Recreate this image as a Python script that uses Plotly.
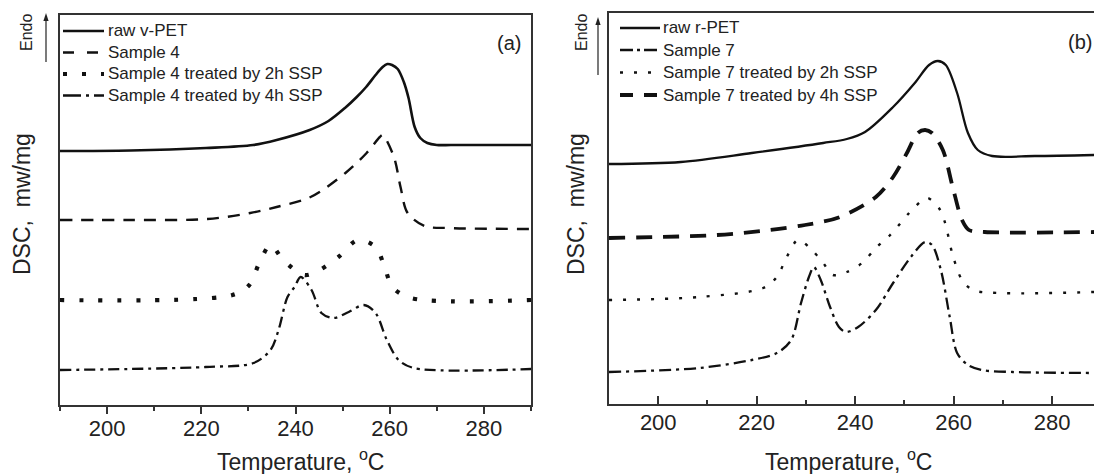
import plotly.graph_objects as go

# ---------------- data (temperature in degC, DSC signal in arbitrary offset units) ----------------
# panel (a)
T_a_raw = [190, 205, 221, 231, 236, 243, 247, 250.5, 253, 255, 257, 258.5, 259.5, 260.5, 261.7, 263, 264, 265.3, 266.5, 268, 270, 273, 280, 290]
Y_a_raw = [254, 254.5, 257, 260, 265, 275, 284, 297, 308, 318, 330, 338, 341, 340, 336, 323, 307, 278, 267, 262, 260, 260, 260, 260]

T_a_s4 = [190, 205, 221.3, 230.4, 236, 243.2, 250.6, 255.1, 257.9, 258.5, 260.9, 262.3, 263.8, 267.4, 272.6, 290]
Y_a_s4 = [185, 185, 186, 192, 198, 208, 232, 252, 268, 270, 248, 218, 192, 179, 177, 176]

T_a_2h = [190, 226.6, 230.2, 232.3, 234.7, 237.4, 241.9, 245.1, 249.1, 253.2, 257, 258.9, 260.6, 264.5, 290]
Y_a_2h = [105, 110, 120, 142, 160, 145, 130, 135, 148, 165, 158, 138, 118, 107, 105]

T_a_4h = [190, 220.9, 231.1, 234.7, 236.4, 238.3, 239.8, 241.1, 243.4, 245.5, 248.1, 251.3, 254.5, 257, 259.4, 261.9, 265.1, 290]
Y_a_4h = [35, 38, 42, 55, 75, 108, 118, 128, 115, 92, 87, 93, 100, 92, 65, 45, 37, 36]

# panel (b)
T_b_raw = [190, 204.6, 219, 233.5, 238.3, 242, 247.7, 252.1, 255, 256.8, 258.4, 260.7, 262.9, 264.9, 267.8, 276.5, 288.5]
Y_b_raw = [240, 242, 251, 261, 265, 272, 297, 321, 339, 343, 339, 311, 271, 254, 248, 248, 249]

T_b_s7 = [190, 208.3, 219, 224.1, 227, 229, 230.6, 231.6, 233, 234.9, 236.7, 238.1, 240.6, 244.2, 247.7, 251.3, 254.2, 255.6, 257.4, 259.2, 260.7, 262.9, 265.7, 272, 288.5]
Y_b_s7 = [32, 36, 44, 51, 64, 101, 127, 137, 124, 97, 77, 72, 77, 94, 121, 147, 162, 159, 134, 87, 51, 39, 34, 32, 31]

T_b_2h = [190, 208.3, 221.3, 224.1, 226.1, 228.4, 231.2, 233.5, 235.5, 238.3, 241.4, 244.2, 247.1, 252.1, 254.6, 257, 258.2, 259.8, 261.7, 263.9, 269.2, 288.5]
Y_b_2h = [104, 107, 116, 127, 147, 164, 154, 141, 129, 132, 141, 156, 169, 197, 206, 196, 182, 149, 124, 114, 111, 112]

T_b_4h = [190, 211.9, 222.7, 229.8, 236.9, 244.2, 247.7, 250.5, 252.7, 254.2, 255.6, 257.8, 259.8, 261.7, 263.1, 266.3, 288.5]
Y_b_4h = [166, 169, 174, 179, 187, 207, 227, 251, 271, 274, 271, 254, 217, 184, 174, 172, 172]

names_a = ["raw v-PET", "Sample 4", "Sample 4 treated by 2h SSP", "Sample 4 treated by 4h SSP"]
names_b = ["raw r-PET", "Sample 7", "Sample 7 treated by 2h SSP", "Sample 7 treated by 4h SSP"]
x_ticks = [200, 220, 240, 260, 280]

INK = "#111111"
AX = "#333333"
TXT = "#222222"
FONT = "Liberation Sans, Arial, sans-serif"
W, H = 1094, 474


def px(v):
    return v / W


def py(v):
    return 1 - v / H


# styles: (dash in plot, dash in legend sample, width)
styles_a = [("solid", "solid", 2.6),
            ("12px,9px", "11px,13px", 2.4),
            ("4px,15px", "4px,15px", 4.2),
            ("11px,5px,3px,5px", "18px,5px,3px,5px", 2.3)]
styles_b = [("solid", "solid", 2.3),
            ("12px,5px,3px,5px", "13px,4px,3px,4px", 2.3),
            ("3px,11px", "3px,11px", 2.4),
            ("16px,11px", "13px,11px", 3.8)]

fig = go.Figure()


def add(T, Y, name, style, xa, ya):
    fig.add_trace(go.Scatter(
        x=T, y=Y, name=name, mode="lines", showlegend=False,
        line=dict(color=INK, width=style[2], dash=style[0], shape="spline", smoothing=0.9),
        xaxis=xa, yaxis=ya, hoverinfo="skip"))


for T, Y, n, s in zip([T_a_raw, T_a_s4, T_a_2h, T_a_4h], [Y_a_raw, Y_a_s4, Y_a_2h, Y_a_4h], names_a, styles_a):
    add(T, Y, n, s, "x", "y")
for T, Y, n, s in zip([T_b_raw, T_b_s7, T_b_2h, T_b_4h], [Y_b_raw, Y_b_s7, Y_b_2h, Y_b_4h], names_b, styles_b):
    add(T, Y, n, s, "x2", "y2")

common_x = dict(showgrid=False, zeroline=False, showline=True, mirror=True,
                linecolor=AX, linewidth=1.6, tickmode="array", tickvals=x_ticks,
                ticktext=[str(t) for t in x_ticks], tickcolor=AX, tickwidth=1.5,
                tickfont=dict(family=FONT, size=22, color=TXT))
common_y = dict(showgrid=False, zeroline=False, showline=True, linecolor=AX, linewidth=1.6,
                showticklabels=False, ticks="", fixedrange=True)

fig.update_layout(
    width=W, height=H, margin=dict(l=0, r=0, t=0, b=0),
    paper_bgcolor="white", plot_bgcolor="white",
    font=dict(family=FONT, color=TXT),
    showlegend=False,
    xaxis=dict(common_x, domain=[px(60), px(531)], range=[190, 290], anchor="y",
               ticks="outside", ticklen=7, ticklabelstandoff=-4,
               minor=dict(dtick=10, tick0=190, ticks="outside", ticklen=4, tickcolor=AX, tickwidth=1.5)),
    yaxis=dict(common_y, domain=[py(405), py(15)], range=[0, 390], anchor="x", mirror=True),
    xaxis2=dict(common_x, domain=[px(609), 1.0], range=[190, 288.5], anchor="y2",
                ticks="inside", ticklen=8, ticklabelstandoff=-2,
                minor=dict(dtick=10, tick0=190, ticks="inside", ticklen=4, tickcolor=AX, tickwidth=1.5)),
    yaxis2=dict(common_y, domain=[py(404), py(13)], range=[0, 391], anchor="x2", mirror=False),
)

ann = []
shapes = []

# manual legends (sample line + label)
leg_a_rows = [31, 52.5, 74, 95.5]
leg_b_rows = [28, 50, 72.5, 95]
for names, styles, rows, x0, x1, xt in ((names_a, styles_a, leg_a_rows, 63, 104, 106),
                                        (names_b, styles_b, leg_b_rows, 620, 660, 661)):
    for n, s, r in zip(names, styles, rows):
        shapes.append(dict(type="line", xref="paper", yref="paper", x0=px(x0), x1=px(x1),
                           y0=py(r), y1=py(r), line=dict(color=INK, width=s[2], dash=s[1])))
        ann.append(dict(text=n, x=px(xt), y=py(r), xref="paper", yref="paper",
                        xanchor="left", yanchor="middle", showarrow=False,
                        font=dict(family=FONT, size=17, color=TXT)))

# axis titles
for cx in (300, 848):
    ann.append(dict(text="Temperature, <sup>o</sup>C", x=px(cx), y=py(460), xref="paper", yref="paper",
                    xanchor="center", yanchor="middle", showarrow=False,
                    font=dict(family=FONT, size=23, color=TXT)))
for cx in (22, 576):
    ann.append(dict(text="DSC,\u00a0 mw/mg", x=px(cx), y=py(204), xref="paper", yref="paper",
                    xanchor="center", yanchor="middle", showarrow=False, textangle=-90,
                    font=dict(family=FONT, size=23, color=TXT)))

# Endo labels + arrows
for cx, ax_x, top, bot in ((26, 46, 13, 62), (581, 598, 17, 75)):
    ann.append(dict(text="Endo", x=px(cx), y=py(33), xref="paper", yref="paper",
                    xanchor="center", yanchor="middle", showarrow=False, textangle=-90,
                    font=dict(family=FONT, size=16, color=TXT)))
    shapes.append(dict(type="line", xref="paper", yref="paper", x0=px(ax_x), x1=px(ax_x),
                       y0=py(bot), y1=py(top + 6), line=dict(color=TXT, width=1.2)))
    shapes.append(dict(type="path", xref="paper", yref="paper",
                       path="M {} {} L {} {} L {} {} Z".format(px(ax_x - 2.6), py(top + 8), px(ax_x), py(top),
                                                               px(ax_x + 2.6), py(top + 8)),
                       fillcolor=TXT, line=dict(width=0)))

# panel letters
ann.append(dict(text="(a)", x=px(509), y=py(43), xref="paper", yref="paper",
                xanchor="center", yanchor="middle", showarrow=False,
                font=dict(family=FONT, size=20, color=TXT)))
ann.append(dict(text="(b)", x=px(1080), y=py(42), xref="paper", yref="paper",
                xanchor="center", yanchor="middle", showarrow=False,
                font=dict(family=FONT, size=20, color=TXT)))
fig.update_layout(annotations=ann, shapes=shapes)

fig.write_html("out.html")
